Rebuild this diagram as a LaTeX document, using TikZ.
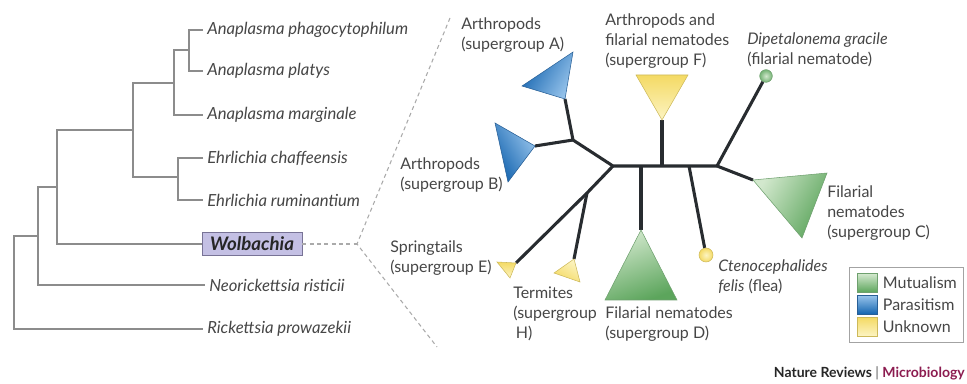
\documentclass[tikz,border=0pt]{standalone}
\usepackage{fontspec}
\setmainfont{Lato}
\usetikzlibrary{positioning,calc}
\definecolor{twigclr}{RGB}{140,140,140}
\definecolor{txtclr}{RGB}{70,70,70}
\definecolor{branchclr}{RGB}{40,44,48}
\definecolor{dashclr}{RGB}{170,170,170}
\definecolor{wolbclr}{RGB}{196,192,228}
\definecolor{wolbedge}{RGB}{120,115,150}
\definecolor{mutclr}{RGB}{92,165,92}
\definecolor{mutlight}{RGB}{210,232,205}
\definecolor{mutedge}{RGB}{110,160,110}
\definecolor{parclr}{RGB}{20,100,175}
\definecolor{parlight}{RGB}{150,195,235}
\definecolor{paredge}{RGB}{40,95,150}
\definecolor{unkclr}{RGB}{244,218,100}
\definecolor{unklight}{RGB}{252,244,195}
\definecolor{unkedge}{RGB}{205,185,90}
\definecolor{microclr}{RGB}{140,28,80}
\tikzset{
  twig/.style={draw=twigclr, line width=0.9pt},
  leaf/.style={anchor=west, inner xsep=3pt, inner ysep=0pt,
               font=\fontsize{12.5}{14}\selectfont\itshape, text=txtclr},
  wolb/.style={rectangle, draw=wolbedge, line width=0.6pt, fill=wolbclr,
               minimum width=75pt, minimum height=17pt, inner sep=0pt,
               font=\fontsize{14}{16}\selectfont\bfseries\itshape, text=black!85},
  zoomline/.style={draw=dashclr, line width=0.8pt, dash pattern=on 3pt off 2.5pt},
  branch/.style={draw=branchclr, line width=2.3pt, line join=round},
  grp/.style={anchor=west, inner sep=0pt, align=left,
              font=\fontsize{12}{15}\selectfont, text=txtclr},
  mutual/.style={draw=mutedge, line width=0.4pt},
  parasit/.style={draw=paredge, line width=0.4pt},
  unknown/.style={draw=unkedge, line width=0.4pt},
  swatch/.style={rectangle, minimum width=15pt, minimum height=14pt, inner sep=0pt},
  legtxt/.style={font=\fontsize{12}{14}\selectfont, text=txtclr, inner sep=0pt},
}

\begin{document}
\begin{tikzpicture}[x=0.75pt, y=-0.75pt]
\useasboundingbox (0,0) rectangle (967,384);
% outgroup tree
\node[leaf] (apha) at (203,30)  {Anaplasma phagocytophilum};
\node[leaf] (apla) at (203,71)  {Anaplasma platys};
\node[leaf] (amar) at (203,115) {Anaplasma marginale};
\node[leaf] (echa) at (203,158) {Ehrlichia chaffeensis};
\node[leaf] (erum) at (203,200) {Ehrlichia ruminantium};
\node[wolb] (wolb) at (252,244) {Wolbachia};
\node[leaf] (neor) at (205,285) {Neorickettsia risticii};
\node[leaf] (rick) at (203,329) {Rickettsia prowazekii};
\coordinate (j1) at (189,50);
\coordinate (j2) at (174,83);
\coordinate (j3) at (178,177);
\coordinate (j4) at (133,130);
\coordinate (j5) at (57,187);
\coordinate (j6) at (38,236);
\coordinate (j7) at (14,282);
\draw[twig] (apha.west) -| (j1) |- (apla.west);
\draw[twig] (j1) -| (j2) |- (amar.west);
\draw[twig] (echa.west) -| (j3) |- (erum.west);
\draw[twig] (j2) -| (j4) |- (j3);
\draw[twig] (j4) -| (j5) |- (wolb.west);
\draw[twig] (j5) -| (j6) |- (neor.west);
\draw[twig] (j6) -| (j7) |- (rick.west);
% zoom into Wolbachia
\coordinate (zoomtip) at (357,244);
\coordinate (zoomtop) at (450,18);
\coordinate (zoombot) at (437,347);
\draw[zoomline] (wolb.east) -- (zoomtip);
\draw[zoomline] (zoomtop) -- (zoomtip) -- (zoombot);
% Wolbachia supergroups
\coordinate (mj)  at (613,166);
\coordinate (ab)  at (573,140);
\coordinate (dj)  at (641,166);
\coordinate (fj)  at (662,166);
\coordinate (cj)  at (689,166);
\coordinate (rj)  at (717,166);
\coordinate (ehj) at (587,193);
\coordinate (tA) at (565,99);
\coordinate (tB) at (535,146);
\coordinate (tF) at (662,120);
\coordinate (tD) at (641,230);
\coordinate (tC) at (753,180);
\coordinate (tE) at (516,263);
\coordinate (tH) at (574,259);
\node[circle, mutual, inner sep=0pt, minimum size=9.5pt,
      inner color=mutlight, outer color=mutclr!85] (dgra) at (766,76) {};
\node[circle, unknown, inner sep=0pt, minimum size=10.5pt,
      inner color=unklight, outer color=unkclr] (cfel) at (706,255) {};
\draw[branch] (tA) -- (ab) -- (mj) -- (rj);
\draw[branch] (tB) -- (ab);
\draw[branch] (fj) -- (tF);
\draw[branch] (dj) -- (tD);
\draw[branch] (cj) -- (cfel);
\draw[branch] (rj) -- (dgra);
\draw[branch] (rj) -- (tC);
\draw[branch] (mj) -- (ehj) -- (tE);
\draw[branch] (ehj) -- (tH);
\path[parasit, top color=parclr, bottom color=parlight, shading angle=60]
  (522,86) -- (573,52) -- (tA) -- cycle;
\path[parasit, top color=parlight, bottom color=parclr, shading angle=-60]
  (495,123) -- (tB) -- (508,182) -- cycle;
\path[unknown, top color=unkclr, bottom color=unklight]
  (636,75) -- (688,75) -- (tF) -- cycle;
\path[mutual, top color=mutlight, bottom color=mutclr, shading angle=20]
  (tD) -- (677,300) -- (605,300) -- cycle;
\path[mutual, top color=mutlight, bottom color=mutclr, shading angle=60]
  (tC) -- (827,173) -- (802,238) -- cycle;
\path[unknown, top color=unkclr, bottom color=unklight]
  (497,262) -- (tE) -- (510,278) -- cycle;
\path[unknown, top color=unklight, bottom color=unkclr, shading angle=-30]
  (554,273) -- (tH) -- (580,282) -- cycle;
\node[grp] (lblA)  at (461,35)  {Arthropods\\(supergroup A)};
\node[grp] (lblF)  at (605,41)  {Arthropods and\\filarial nematodes\\(supergroup F)};
\node[grp] (lblDg) at (747,50)  {\textit{Dipetalonema gracile}\\(filarial nematode)};
\node[grp] (lblB)  at (400,175) {Arthropods\\(supergroup B)};
\node[grp] (lblE)  at (390,258) {Springtails\\(supergroup E)};
\node[grp] (lblH)  at (513,314) {Termites\\(supergroup\\\hspace{2pt}H)};
\node[grp] (lblD)  at (605,324) {Filarial nematodes\\(supergroup D)};
\node[grp] (lblCf) at (718,277) {\textit{Ctenocephalides}\\\textit{felis} (flea)};
\node[grp] (lblC)  at (827,213) {Filarial\\nematodes\\(supergroup C)};
% legend
\node[draw=twigclr!80, line width=0.6pt, minimum width=86pt, minimum height=56pt,
      inner sep=0pt] (legend) at (906.5,305) {};
\node[swatch, mutual, top color=mutlight, bottom color=mutclr] (swM) at (867,283) {};
\node[swatch, parasit, top color=parlight, bottom color=parclr, below=2pt of swM] (swP) {};
\node[swatch, unknown, top color=unkclr, bottom color=unklight, below=2pt of swP] (swU) {};
\node[legtxt, right=4pt of swM] (txtM) {Mutualism};
\node[legtxt, right=4pt of swP] (txtP) {Parasitism};
\node[legtxt, right=4pt of swU] (txtU) {Unknown};
\node[anchor=east, inner sep=0pt, font=\fontsize{10.5}{12}\selectfont\bfseries,
      text=black!85] (credit) at (965,373)
  {Nature Reviews \textcolor{twigclr}{|} \textcolor{microclr}{Microbiology}};
\end{tikzpicture}
\end{document}
